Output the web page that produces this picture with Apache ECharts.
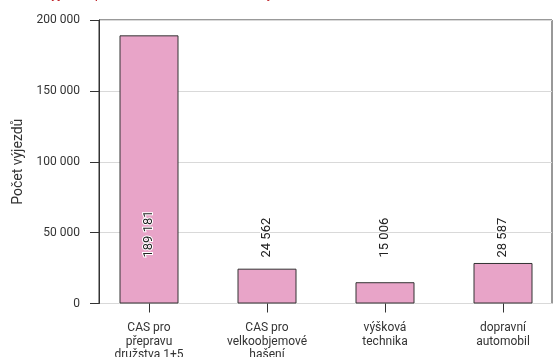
<!DOCTYPE html>
<html>
<head>
<meta charset="utf-8">
<script src="https://cdn.jsdelivr.net/npm/echarts@6/dist/echarts.min.js"></script>
<style>
    html, body { margin: 0; padding: 0; background: #fff; }
    #chart { width: 554px; height: 357px; }
</style>
</head>
<body>
<div id="chart"></div>
<script>
    // data
    var categories = ['CAS pro\npřepravu\ndružstva 1+5', 'CAS pro\nvelkoobjemové\nhašení', 'výšková\ntechnika', 'dopravní\nautomobil'];
    var counts = [189181, 24562, 15006, 28587];
    var yTicks = [0, 50000, 100000, 150000, 200000];

    var font = 'Roboto, sans-serif';
    var ink = '#333';

    function fmt(v) {
        return String(v).replace(/\B(?=(\d{3})+(?!\d))/g, ' ');
    }

    var chart = echarts.init(document.getElementById('chart'));
    var option = {
        animation: false,
        title: {
            text: 'Počet výjezdů podle druhu mobilní techniky',
            left: 0,
            top: -18,
            textStyle: { color: '#c1272d', fontSize: 14, fontWeight: 'normal', fontFamily: font }
        },
        grid: [
            // frame + y scale
            { left: 99, top: 20, width: 453, height: 283.5, outerBoundsMode: 'none', show: true, borderColor: ink, borderWidth: 1, backgroundColor: 'transparent' },
            // bars, spread wider than the frame
            { left: 90, top: 20, width: 472, height: 283.5, outerBoundsMode: 'none' }
        ],
        xAxis: [
            { gridIndex: 0, type: 'category', show: false, data: categories },
            {
                gridIndex: 1,
                type: 'category',
                data: categories,
                axisLine: { show: false },
                axisTick: { show: true, alignWithLabel: true, length: 9, lineStyle: { color: ink } },
                axisLabel: { color: ink, fontSize: 12, fontFamily: font, lineHeight: 13.5, margin: 18, interval: 0 }
            }
        ],
        yAxis: [
            {
                gridIndex: 0,
                type: 'value',
                min: yTicks[0],
                max: yTicks[yTicks.length - 1],
                interval: yTicks[1] - yTicks[0],
                name: 'Počet výjezdů',
                nameLocation: 'middle',
                nameGap: 72,
                nameTextStyle: { color: ink, fontSize: 14, fontFamily: font },
                axisLine: { show: true, lineStyle: { color: ink } },
                axisTick: { show: true, length: 9, lineStyle: { color: ink } },
                axisLabel: { color: ink, fontSize: 12, fontFamily: font, margin: 19, formatter: fmt },
                splitLine: { show: true, lineStyle: { color: '#d9d9d9' } }
            },
            {
                gridIndex: 1,
                type: 'value',
                min: yTicks[0],
                max: yTicks[yTicks.length - 1],
                show: false,
                splitLine: { show: false }
            }
        ],
        series: [{
            type: 'bar',
            xAxisIndex: 1,
            yAxisIndex: 1,
            data: counts,
            barWidth: 59,
            itemStyle: { color: '#e8a4c8', borderColor: ink, borderWidth: 1 },
            label: {
                show: true,
                position: 'insideBottom',
                distance: 46,
                rotate: 90,
                align: 'left',
                verticalAlign: 'middle',
                color: '#222',
                fontSize: 13,
                fontFamily: font,
                textBorderColor: '#fff',
                textBorderWidth: 2,
                formatter: function (p) { return fmt(p.value); }
            }
        }]
    };
    chart.setOption(option);
</script>
</body>
</html>
